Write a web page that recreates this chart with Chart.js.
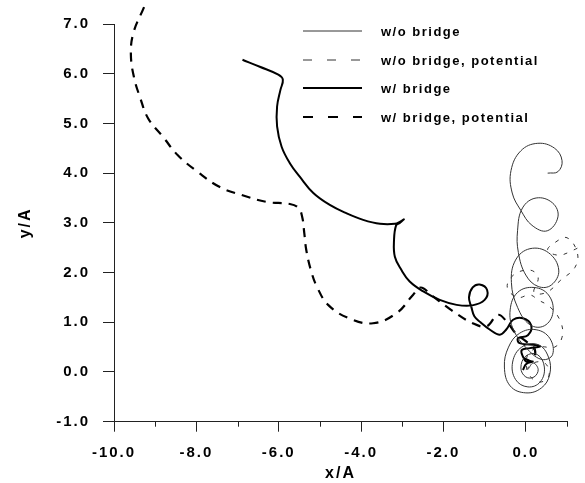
<!DOCTYPE html>
<html>
<head>
<meta charset="utf-8">
<script src="https://cdn.jsdelivr.net/npm/chart.js@4.4.0/dist/chart.umd.min.js"></script>
<style>
  html, body { margin: 0; padding: 0; background: #fff; }
  #wrap { width: 585px; height: 483px; }
</style>
</head>
<body>
<div id="wrap"><canvas id="c" width="585" height="483"></canvas></div>
<script>
// Series names (legend order)
const seriesLabels = ['w/o bridge', 'w/o bridge, potential', 'w/ bridge', 'w/ bridge, potential'];

// Axis ticks
const xTickValues = [-10, -8, -6, -4, -2, 0];
const xMinorTickValues = [-9, -7, -5, -3, -1, 1];
const yTickValues = [-1, 0, 1, 2, 3, 4, 5, 6, 7];

// Trajectory without bridge: loops near the origin drifting upward
const woBridge = [
  [0.05, 0.05], [0.18, 0.18], [0.3, 0.05], [0.2, -0.1], [0.0, -0.1], [-0.12, 0.08],
  [0.0, 0.32], [0.28, 0.35], [0.45, 0.1], [0.35, -0.2], [0.05, -0.3], [-0.25, -0.15],
  [-0.32, 0.2], [-0.1, 0.5], [0.3, 0.55], [0.55, 0.3], [0.58, -0.05], [0.38, -0.32],
  [0.0, -0.42], [-0.38, -0.28], [-0.52, 0.1], [-0.42, 0.5], [-0.15, 0.78], [0.25, 0.85],
  [0.58, 0.68], [0.65, 0.35], [0.4, 0.25], [0.05, 0.45], [-0.3, 0.85], [-0.38, 1.25],
  [-0.2, 1.6], [0.2, 1.7], [0.55, 1.55], [0.66, 1.2], [0.45, 0.93], [0.1, 0.95],
  [-0.2, 1.3], [-0.35, 1.8], [-0.25, 2.25], [0.1, 2.48], [0.55, 2.4], [0.8, 2.05],
  [0.62, 1.75], [0.3, 1.72], [0.0, 1.95], [-0.18, 2.4], [-0.2, 2.85], [-0.08, 3.3],
  [0.25, 3.5], [0.65, 3.4], [0.78, 3.12], [0.52, 2.84], [0.15, 2.95], [-0.12, 3.25],
  [-0.33, 3.6], [-0.36, 4.05], [-0.12, 4.45], [0.29, 4.6], [0.7, 4.5], [0.88, 4.25],
  [0.78, 4.03], [0.53, 4.0]
];

// Potential centre without bridge
const woBridgePot = [
  [0.0, 0.05], [0.25, 0.2], [0.5, 0.15], [0.55, -0.1], [0.3, -0.2], [0.05, 0.0],
  [0.05, 0.35], [0.35, 0.5], [0.7, 0.5], [0.88, 0.7], [0.85, 1.0], [0.6, 1.3],
  [0.3, 1.45], [0.1, 1.55], [-0.2, 1.5], [-0.45, 1.7], [-0.3, 1.95], [0.1, 2.05],
  [0.3, 1.9], [0.2, 1.6], [0.5, 1.6], [0.85, 1.85], [1.19, 2.1], [1.25, 2.4],
  [1.0, 2.7], [0.7, 2.6], [0.53, 2.45], [0.8, 2.35], [1.15, 2.45], [1.38, 2.55]
];

// Trajectory with bridge
const wBridge = [
  [-6.88, 6.28], [-6.46, 6.14], [-6.01, 5.98], [-5.9, 5.88], [-5.96, 5.67], [-6.04, 5.34],
  [-6.04, 4.94], [-5.93, 4.53], [-5.73, 4.2], [-5.49, 3.93], [-5.16, 3.6], [-4.76, 3.36],
  [-4.35, 3.19], [-3.95, 3.06], [-3.54, 2.98], [-3.18, 2.98], [-3.04, 3.03], [-2.96, 3.07],
  [-3.06, 3.0], [-3.15, 2.95], [-3.2, 2.66], [-3.18, 2.32], [-3.02, 2.05], [-2.82, 1.82],
  [-2.49, 1.62], [-2.09, 1.45], [-1.68, 1.35], [-1.3, 1.34], [-1.0, 1.45], [-0.94, 1.65],
  [-1.12, 1.76], [-1.29, 1.7], [-1.38, 1.5], [-1.32, 1.3], [-1.25, 1.12], [-1.1, 1.0],
  [-0.87, 0.85], [-0.63, 0.75], [-0.47, 0.86], [-0.31, 1.05], [-0.07, 1.08], [0.13, 0.94],
  [0.05, 0.74], [-0.19, 0.68], [-0.15, 0.58], [0.26, 0.54], [0.34, 0.51], [0.1, 0.48],
  [-0.1, 0.44], [-0.07, 0.31], [0.01, 0.21], [0.17, 0.21], [0.01, 0.16], [-0.07, 0.04]
];

// Potential centre with bridge
const wBridgePot = [
  [-9.27, 7.34], [-9.53, 6.82], [-9.59, 6.38], [-9.51, 5.91], [-9.37, 5.53], [-9.17, 5.1],
  [-8.81, 4.73], [-8.45, 4.36], [-7.96, 4.02], [-7.43, 3.72], [-6.9, 3.56], [-6.29, 3.42],
  [-5.73, 3.38], [-5.52, 3.3], [-5.43, 3.12], [-5.38, 2.8], [-5.33, 2.45], [-5.22, 2.05],
  [-5.07, 1.71], [-4.8, 1.35], [-4.32, 1.09], [-3.71, 0.98], [-3.13, 1.19], [-2.74, 1.55],
  [-2.55, 1.7], [-2.3, 1.55], [-1.8, 1.24], [-1.29, 0.98], [-0.95, 0.92], [-0.68, 1.15],
  [-0.45, 1.0], [-0.25, 0.78], [0.0, 0.62], [0.22, 0.45], [0.15, 0.22], [-0.05, 0.28]
];

const toPoints = arr => arr.map(([x, y]) => ({ x, y }));
const FONT = '"Liberation Sans", Arial, sans-serif';

const lineSet = (label, data, color, width, dash) => ({
  label, data: toPoints(data), showLine: true, pointRadius: 0, pointHoverRadius: 0,
  borderColor: color, borderWidth: width, borderDash: dash, tension: 0.4,
  clip: false, fill: false
});

// Legend drawn inside the plot, top right
const insideLegend = {
  id: 'insideLegend',
  afterDraw(chart) {
    const ctx = chart.ctx;
    const rows = [31, 60, 88, 117];
    const legendDash = [[], [9, 15], [], [10, 15]];
    ctx.save();
    chart.data.datasets.forEach((ds, i) => {
      const y = rows[i];
      ctx.beginPath();
      ctx.setLineDash(legendDash[i]);
      ctx.strokeStyle = ds.borderColor;
      ctx.lineWidth = ds.borderWidth;
      ctx.moveTo(303, y);
      ctx.lineTo(362, y);
      ctx.stroke();
      ctx.setLineDash([]);
      ctx.letterSpacing = '1.5px';
      ctx.font = 'bold 13px ' + FONT;
      ctx.fillStyle = '#000';
      ctx.textBaseline = 'middle';
      ctx.textAlign = 'left';
      ctx.fillText(ds.label, 381, y + 1);
    });
    ctx.restore();
  }
};

// Short unlabelled ticks at odd x values
const minorTicks = {
  id: 'minorTicks',
  afterDraw(chart) {
    const ctx = chart.ctx;
    const xs = chart.scales.x;
    const bottom = chart.chartArea.bottom;
    ctx.save();
    ctx.strokeStyle = '#222';
    ctx.lineWidth = 1;
    xMinorTickValues.forEach(v => {
      const px = Math.round(xs.getPixelForValue(v)) + 0.5;
      ctx.beginPath();
      ctx.moveTo(px, bottom);
      ctx.lineTo(px, bottom + 5);
      ctx.stroke();
    });
    ctx.restore();
  }
};

// Wider letter spacing for axis text
const spacing = {
  id: 'spacing',
  beforeLayout(chart) { chart.ctx.letterSpacing = '2px'; },
  beforeDraw(chart) { chart.ctx.letterSpacing = '2px'; }
};

new Chart(document.getElementById('c'), {
  type: 'scatter',
  data: {
    datasets: [
      lineSet(seriesLabels[0], woBridge, '#333', 1, []),
      lineSet(seriesLabels[1], woBridgePot, '#333', 1, [4, 7]),
      lineSet(seriesLabels[2], wBridge, '#000', 2, []),
      lineSet(seriesLabels[3], wBridgePot, '#000', 2.2, [9, 7])
    ]
  },
  options: {
    responsive: false,
    devicePixelRatio: 1,
    animation: false,
    events: [],
    layout: { padding: { left: 0, top: 24, right: 18, bottom: 0 } },
    elements: { line: { capBezierPoints: false } },
    plugins: { legend: { display: false }, tooltip: { enabled: false } },
    scales: {
      x: {
        type: 'linear', position: 'bottom', min: -10, max: 1,
        afterBuildTicks: s => { s.ticks = xTickValues.map(v => ({ value: v })); },
        afterFit: s => { s.height = 61.3; },
        grid: { drawOnChartArea: false, tickLength: 10, color: '#222' },
        border: { display: true, color: '#222', width: 1 },
        ticks: {
          color: '#000', padding: 12, maxRotation: 0, autoSkip: false,
          font: { family: FONT, size: 15, weight: 'bold' },
          callback: v => v.toFixed(1)
        },
        title: {
          display: true, text: 'x/A', color: '#000',
          font: { family: FONT, size: 16, weight: 'bold' },
          padding: { top: 0, bottom: 0 }
        }
      },
      y: {
        type: 'linear', position: 'left', min: -1, max: 7,
        afterBuildTicks: s => { s.ticks = yTickValues.map(v => ({ value: v })); },
        afterFit: s => { s.width = 114; },
        grid: { drawOnChartArea: false, tickLength: 11, color: '#222' },
        border: { display: true, color: '#222', width: 1 },
        ticks: {
          color: '#000', padding: 13, autoSkip: false,
          font: { family: FONT, size: 15, weight: 'bold' },
          callback: v => v.toFixed(1)
        },
        title: {
          display: true, text: 'y/A', color: '#000',
          font: { family: FONT, size: 16, weight: 'bold' },
          padding: { top: 16, bottom: 0 }
        }
      }
    }
  },
  plugins: [spacing, minorTicks, insideLegend]
});
</script>
</body>
</html>
